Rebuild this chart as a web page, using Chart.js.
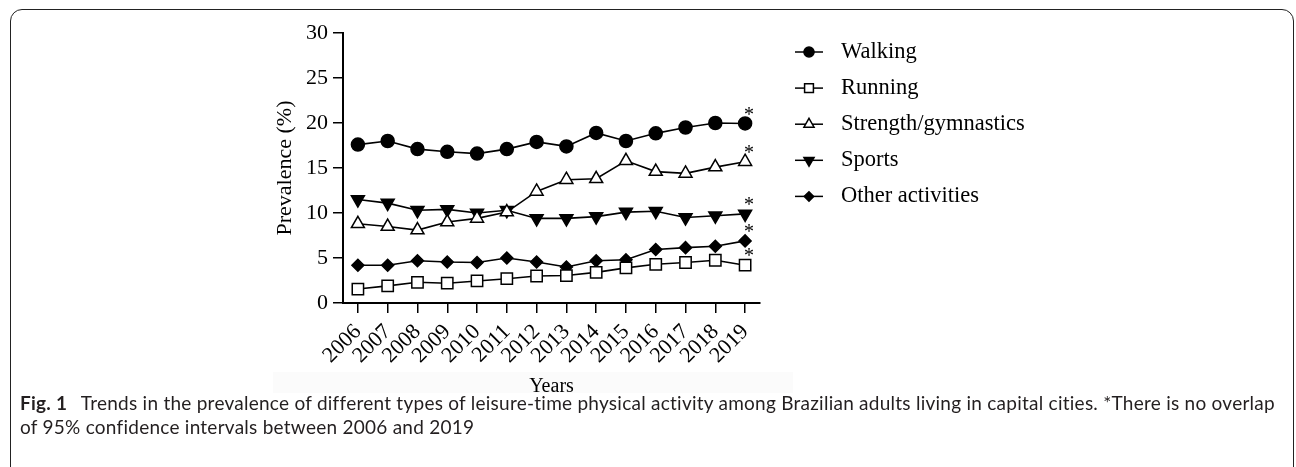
<!DOCTYPE html>
<html><head><meta charset="utf-8">
<script src="https://cdn.jsdelivr.net/npm/chart.js@4.4.1/dist/chart.umd.min.js"></script>
<style>
html,body{margin:0;padding:0;background:#fff;width:1296px;height:467px;overflow:hidden;}
#frame{position:absolute;left:10px;top:9px;width:1284px;height:470px;border:1.5px solid #222;border-radius:12px;box-sizing:border-box;}
#band{position:absolute;left:273px;top:372px;width:520px;height:21px;background:#fbfbfb;}
#wrap{position:absolute;left:0;top:0;width:1296px;height:410px;}
#cap{position:absolute;left:20px;top:391px;width:1270px;font-family:Lato,"Open Sans",sans-serif;font-size:19px;line-height:24px;color:#231f20;white-space:nowrap;}
#cap b{font-weight:700;margin-right:9px;}
</style></head>
<body>
<div id="frame"></div>
<div id="band"></div>
<div id="wrap"><canvas id="c" width="1296" height="410"></canvas></div>
<div id="cap"><span id="l1"><b>Fig. 1</b> Trends in the prevalence of different types of leisure-time physical activity among Brazilian adults living in capital cities. *There is no overlap</span><br><span id="l2">of 95% confidence intervals between 2006 and 2019</span></div>
<script>
const years = ['2006','2007','2008','2009','2010','2011','2012','2013','2014','2015','2016','2017','2018','2019'];
const walking  = [17.6, 18.0, 17.1, 16.8, 16.6, 17.1, 17.9, 17.4, 18.9, 18.0, 18.85, 19.5, 20.0, 19.95];
const running  = [1.55, 1.9, 2.3, 2.2, 2.45, 2.7, 3.0, 3.05, 3.4, 3.9, 4.3, 4.5, 4.75, 4.2];
const strength = [8.8, 8.5, 8.1, 9.0, 9.4, 10.1, 12.4, 13.7, 13.8, 15.8, 14.6, 14.4, 15.1, 15.7];
const sports   = [11.5, 11.1, 10.3, 10.4, 10.0, 10.3, 9.4, 9.4, 9.6, 10.1, 10.2, 9.5, 9.7, 9.9];
const other    = [4.2, 4.2, 4.7, 4.55, 4.5, 5.0, 4.55, 4.0, 4.7, 4.8, 5.95, 6.15, 6.3, 6.9];
const seriesNames = ['Walking','Running','Strength/gymnastics','Sports','Other activities'];
const significant2019 = [true, true, true, true, true];
const yTicks = [0, 5, 10, 15, 20, 25, 30];

// fit caption line 1 to the reference width
(function(){
  const l1 = document.getElementById('l1');
  const target = 1255;
  const w = l1.getBoundingClientRect().width;
  const n = l1.textContent.length - 1;
  const ls = (target - w) / n;
  document.getElementById('cap').style.letterSpacing = ls.toFixed(3) + 'px';
})();

const SERIF = '"Liberation Serif", "Times New Roman", serif';

function ds(label, data, style, fill, radius, rotation){
  return {label, data, borderColor:'#000', borderWidth:1.6, tension:0,
    pointStyle:style, pointRotation:rotation||0, pointRadius:radius, pointHoverRadius:radius,
    pointBackgroundColor:fill, pointBorderColor:'#000', pointBorderWidth:1.5, fill:false};
}

const legendPlugin = {
  id:'customLegend',
  afterDraw(chart){
    const ctx = chart.ctx;
    const x0 = 795, x1 = 823, xm = 809, tx = 841, y0 = 52, dy = 36.1;
    chart.data.datasets.forEach((d,i)=>{
      const y = y0 + i*dy;
      ctx.save();
      ctx.strokeStyle = '#000'; ctx.lineWidth = 1.5;
      ctx.beginPath(); ctx.moveTo(x0,y); ctx.lineTo(x1,y); ctx.stroke();
      ctx.fillStyle = d.pointBackgroundColor;
      Chart.helpers.drawPoint(ctx, {pointStyle:d.pointStyle, rotation:d.pointRotation, radius:d.pointRadius*0.78, borderWidth:1.4}, xm, y);
      ctx.fillStyle = '#000'; ctx.font = '22.5px ' + SERIF; ctx.textBaseline = 'middle'; ctx.textAlign = 'left';
      ctx.fillText(d.label, tx, y);
      ctx.restore();
    });
  }
};

const starPlugin = {
  id:'stars',
  afterDatasetsDraw(chart){
    const ctx = chart.ctx;
    chart.data.datasets.forEach((d,i)=>{
      if(!significant2019[i]) return;
      const meta = chart.getDatasetMeta(i);
      const pt = meta.data[meta.data.length-1];
      ctx.save();
      ctx.fillStyle = '#000'; ctx.font = '20px ' + SERIF; ctx.textAlign = 'center'; ctx.textBaseline = 'middle';
      ctx.fillText('*', pt.x + 4, pt.y - 8);
      ctx.restore();
    });
  }
};

new Chart(document.getElementById('c'), {
  type:'line',
  data:{
    labels: years,
    datasets:[
      ds(seriesNames[0], walking, 'circle', '#000', 6.5),
      ds(seriesNames[1], running, 'rect', '#fff', 8),
      ds(seriesNames[2], strength, 'triangle', '#fff', 7.5),
      ds(seriesNames[3], sports, 'triangle', '#000', 7.5, 180),
      ds(seriesNames[4], other, 'rectRot', '#000', 6)
    ]
  },
  options:{
    responsive:false, animation:false, events:[],
    layout:{padding:{left:272, right:536, top:33, bottom:11}},
    plugins:{legend:{display:false}, tooltip:{enabled:false}},
    scales:{
      x:{
        type:'category', offset:true,
        grid:{display:true, drawOnChartArea:false, drawTicks:true, tickLength:10, color:'#000', lineWidth:1.5, offset:false},
        border:{display:true, color:'#000', width:2},
        ticks:{font:{family:SERIF, size:22}, color:'#000', maxRotation:45, minRotation:45, padding:6, autoSkip:false},
        title:{display:true, text:'Years', font:{family:SERIF, size:20}, color:'#000', padding:0},
        afterFit(s){ s.height = 96; }
      },
      y:{
        min:0, max:30,
        afterBuildTicks(s){ s.ticks = yTicks.map(v=>({value:v})); },
        grid:{display:true, drawOnChartArea:false, drawTicks:true, tickLength:10, color:'#000', lineWidth:1.5},
        border:{display:true, color:'#000', width:2},
        ticks:{font:{family:SERIF, size:22}, color:'#000', padding:5},
        title:{display:true, text:'Prevalence (%)', font:{family:SERIF, size:22}, color:'#000', padding:0},
        afterFit(s){ s.width = 71; }
      }
    }
  },
  plugins:[legendPlugin, starPlugin]
});
</script>
</body></html>
